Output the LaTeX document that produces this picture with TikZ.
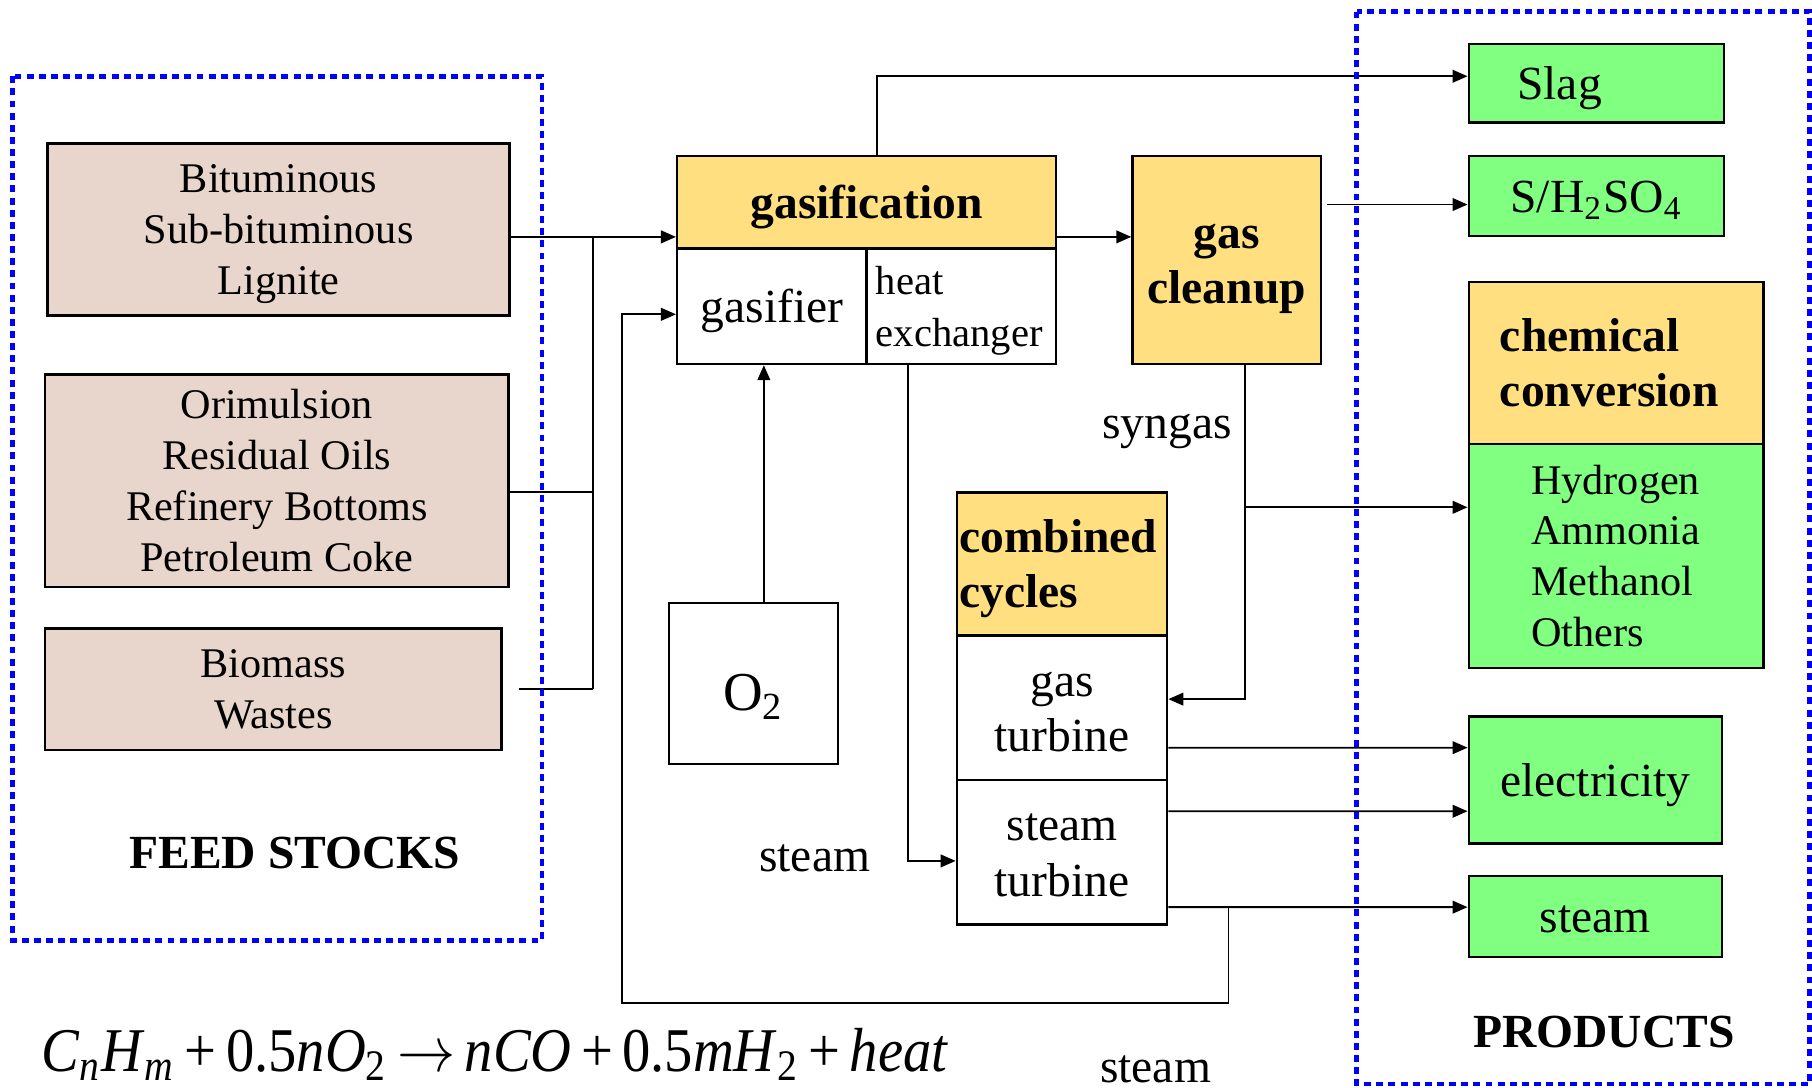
\documentclass[tikz,border=0pt]{standalone}
\usepackage{fontspec}
\setmainfont{Liberation Serif}
\usepackage{graphicx}
\usepackage{tikz}
\usetikzlibrary{
    arrows.meta,
    positioning,
    calc
}
\definecolor{feedPink}{RGB}{232,213,203}
\definecolor{procYellow}{RGB}{255,223,128}
\definecolor{prodGreen}{RGB}{128,255,128}
\definecolor{frameBlue}{RGB}{0,0,255}
\newcommand{\txtS}{\fontsize{10.4}{12.5}\selectfont}
\newcommand{\txtL}{\fontsize{11.7}{13.6}\selectfont}
% fixed ascent / descent for box texts
\newcommand{\upstrut}{\rule{0pt}{0.91em}}
\newcommand{\dnstrut}{\rule[-0.23em]{0pt}{0pt}}
\tikzset{
  feed/.style    = {draw, fill=feedPink, line width=0.6pt, align=center,
                    inner sep=0pt, font=\txtS},
  proc/.style    = {draw, fill=procYellow, line width=0.6pt, align=center,
                    inner sep=0pt, font=\txtL\bfseries},
  cell/.style    = {draw, fill=white, line width=0.6pt, align=center,
                    inner sep=0pt, font=\txtL},
  prod/.style    = {draw, fill=prodGreen, line width=0.6pt, align=center,
                    inner sep=0pt, font=\txtL},
  arr/.style     = {-{Triangle[length=1.3mm, width=1.1mm]}, line width=0.45pt},
  wire/.style    = {line width=0.45pt},
  frame/.style   = {draw=frameBlue, line width=0.4mm,
                    dash pattern=on 0.6mm off 0.45mm}
}

\begin{document}
\begin{tikzpicture}[
    x=0.1mm, y=-0.1mm,
    lbl/.style={inner sep=0pt, font=\txtL}
]
\useasboundingbox (0,0) rectangle (1568,941);

% --- FEED STOCKS ---
\node[feed, minimum width=40mm, minimum height=14.9mm] (coal) at (241,198.5) {\upstrut Bituminous\\Sub-bituminous\\Lignite\dnstrut};
\node[feed, minimum width=40.1mm, minimum height=18.4mm] (oil) at (239.5,416) {\upstrut Orimulsion\\Residual Oils\\Refinery Bottoms\\Petroleum Coke\dnstrut};
\node[feed, minimum width=39.5mm, minimum height=10.5mm] (bio) at (236.5,596.5) {Biomass\\Wastes};
\node[lbl, font=\txtL\bfseries] (feedlbl) at (255,738) {FEED STOCKS};

% --- GASIFICATION ---
\node[proc, minimum width=32.8mm, minimum height=8mm] (gasif) at (750,175) {\upstrut gasification\dnstrut};
\node[cell, minimum width=16.4mm, minimum height=10mm] (gasifier) at (668,265) {\upstrut gasifier\dnstrut};
\node[cell, font=\fontsize{10}{12.8}\selectfont, align=left, text width=14.8mm,
      inner xsep=0.8mm, minimum height=10mm] (heatx) at (832,265) {\upstrut heat\\exchanger};
\node[cell, font=\fontsize{13.5}{16}\selectfont, text height=4.7mm, text depth=0mm,
      minimum width=14.6mm, minimum height=13.9mm] (oxygen) at (652,591.5) {O\textsubscript{2}};

% --- GAS CLEANUP ---
\node[proc, minimum width=16.3mm, minimum height=18mm] (cleanup) at (1061.5,225) {\upstrut gas\\cleanup\dnstrut};

% --- COMBINED CYCLES ---
\node[proc, align=left, text width=17.8mm, inner xsep=0.2mm, minimum height=12.4mm] (combined) at (919,488) {\upstrut combined\\cycles\dnstrut};
\node[cell, minimum width=18.2mm, minimum height=12.5mm] (gasturb) at (919,612.5) {\upstrut gas\\turbine\dnstrut};
\node[cell, minimum width=18.2mm, minimum height=12.5mm] (steamturb) at (919,737.5) {\upstrut steam\\turbine\dnstrut};

% --- PRODUCTS ---
\node[prod, align=left, text width=13.7mm, inner xsep=4.2mm, minimum height=6.8mm] (slag) at (1381.5,72) {\upstrut Slag\dnstrut};
\node[prod, minimum width=22.1mm, minimum height=6.9mm] (sulfur) at (1381.5,169.5) {\upstrut S/H\textsubscript{2}SO\textsubscript{4}\dnstrut};
\node[proc, align=left, text width=20.1mm, inner xsep=2.7mm, minimum height=14mm] (chem) at (1398.5,314) {\upstrut chemical\\conversion\dnstrut};
\node[prod, font=\txtS, align=left, text width=14.7mm, inner xsep=5.4mm, minimum height=19.4mm] (chemlist) at (1398.5,481) {Hydrogen\\Ammonia\\Methanol\\Others};
\node[prod, minimum width=21.9mm, minimum height=11mm] (elec) at (1380.5,675) {\upstrut electricity\dnstrut};
\node[prod, minimum width=21.9mm, minimum height=7mm] (steamout) at (1380.5,793) {\upstrut steam\dnstrut};
\node[lbl, font=\txtL\bfseries] (prodlbl) at (1388,893) {PRODUCTS};

% --- LABELS ---
\node[lbl] (synlbl) at (1010,373) {syngas};
\node[lbl] (steamlbl) at (705,743) {steam};
\node[lbl, anchor=base] (steamret) at (1000,937) {steam};
\node[lbl, anchor=base west] (reaction) at (35,927) {\resizebox{78.5mm}{!}{\scalebox{1}[1.1]{\fontsize{14}{16}\selectfont
    \textit{C}\textsubscript{\textit{n}}\textit{H}\textsubscript{\textit{m}}\,+\,0.5\textit{nO}\textsubscript{2}\,$\rightarrow$\,\textit{nCO}\,+\,0.5\textit{mH}\textsubscript{2}\,+\,\textit{heat}}}};

% --- FEED LINES ---
\coordinate (busTop) at (513,205);
\coordinate (busMid) at (513,426);
\coordinate (busBot) at (513,596.5);
\draw[arr] (coal.east |- busTop) -- (gasif.west |- busTop);
\draw[wire] (busTop) -- (busBot);
\draw[wire] (oil.east |- busMid) -- (busMid);
\draw[wire] ([xshift=1.4mm]bio.east) -- (busBot);

% --- GASIFICATION OUTPUTS ---
\draw[arr] ([xshift=0.9mm]gasif.north) |- ([yshift=0.6mm]slag.west);
\draw[arr] (gasif.east |- busTop) -- (cleanup.west |- busTop);
\draw[arr] ([xshift=0.9mm]oxygen.north) -- ([xshift=0.9mm]oxygen.north |- gasifier.south);
\draw[arr] ([xshift=-4.6mm]heatx.south) |- ([yshift=-0.75mm]steamturb.west);

% --- SYNGAS ---
\coordinate (synTap) at (1077,439);
\draw[arr] ([shift={(0.4mm,-0.75mm)}]cleanup.east |- sulfur.west) -- ([yshift=-0.75mm]sulfur.west);
\draw[arr] ([xshift=1.55mm]cleanup.south) |- ([yshift=0.75mm]gasturb.east);
\draw[arr] (synTap) -- (chemlist.west |- synTap);

% --- TURBINE OUTPUTS ---
\draw[arr] ([yshift=-3.45mm]gasturb.east) -- ([yshift=2.8mm]elec.west);
\draw[arr] ([yshift=3.55mm]steamturb.east) -- ([yshift=-2.7mm]elec.west);
\draw[arr] ([yshift=-4.75mm]steamturb.east) -- ([yshift=0.8mm]steamout.west);

% --- STEAM RETURN ---
\coordinate (retTap) at (1063,785);
\coordinate (retCorner) at (538,868);
\draw[arr] (retTap) |- (retCorner) |- ([yshift=-0.7mm]gasifier.west);

% --- FRAMES ---
\draw[frame] (11,66) rectangle (469,814);
\draw[frame] (1174,10) rectangle (1566,938);
\end{tikzpicture}
\end{document}
